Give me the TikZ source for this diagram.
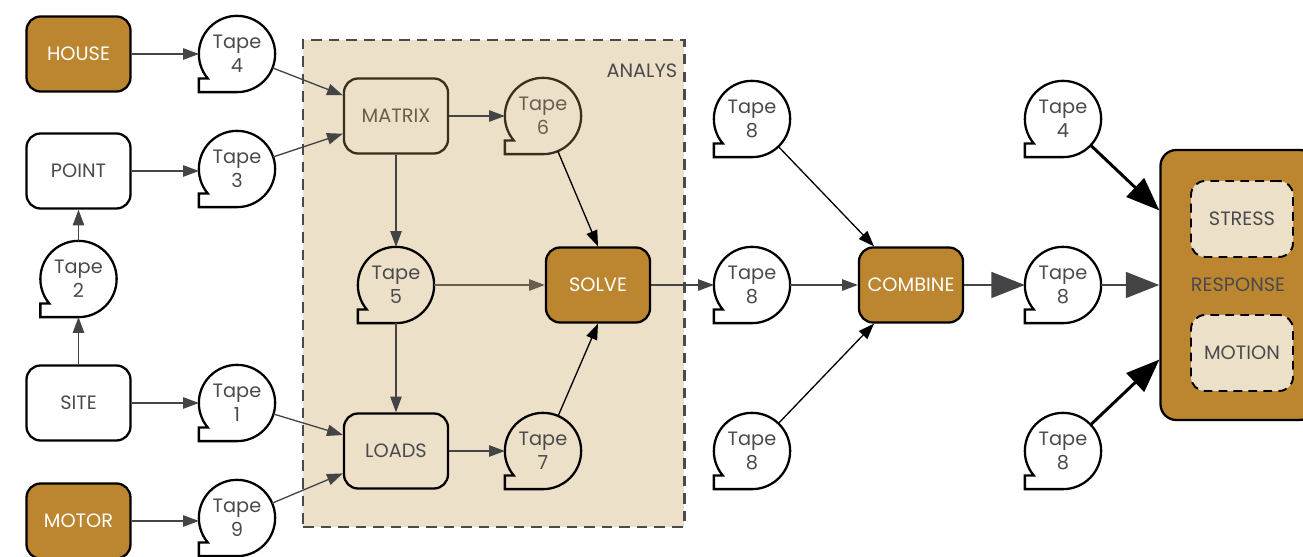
\documentclass[tikz,border=0pt]{standalone}
\usepackage{fontspec}
\setmainfont{Poppins}
\usetikzlibrary{positioning,arrows.meta}

\definecolor{gold}{HTML}{BC8630}
\definecolor{sand}{HTML}{EDE0C8}
\definecolor{inkgray}{HTML}{4A4A4C}
\definecolor{wiregray}{HTML}{444447}
\definecolor{umber}{HTML}{3A2F1E}
\definecolor{umbertext}{HTML}{6B5D4B}

% magnetic tape symbol: a circle with its lower left corner squared off
\pgfdeclareshape{tape}{
  \inheritsavedanchors[from=circle]
  \inheritanchorborder[from=circle]
  \inheritanchor[from=circle]{center}
  \inheritanchor[from=circle]{mid}
  \inheritanchor[from=circle]{base}
  \inheritanchor[from=circle]{north}
  \inheritanchor[from=circle]{south}
  \inheritanchor[from=circle]{east}
  \inheritanchor[from=circle]{west}
  \inheritanchor[from=circle]{north east}
  \inheritanchor[from=circle]{north west}
  \inheritanchor[from=circle]{south east}
  \inheritanchor[from=circle]{south west}
  \backgroundpath{
    \pgfpathmoveto{\pgfpointadd{\centerpoint}{\pgfpointpolar{220}{\radius}}}
    \pgfpatharc{220}{-90}{\radius}
    \pgfpathlineto{\pgfpointadd{\centerpoint}{\pgfpoint{-\radius}{-\radius}}}
    \pgfpathlineto{\pgfpointadd{\centerpoint}{\pgfpointadd{\pgfpoint{-\radius}{0pt}}{\pgfpointscale{0.643}{\pgfpoint{0pt}{-\radius}}}}}
    \pgfpathclose
  }
}

\tikzset{
  block/.style={rectangle, rounded corners=8pt, draw, line width=1.3pt, fill=white,
    minimum width=2.08cm, minimum height=1.5cm, inner sep=2pt, text=inkgray},
  goldblock/.style={block, fill=gold, text=white},
  sandblock/.style={block, fill=sand},
  tapebox/.style={shape=tape, draw, line width=1.3pt, fill=white, minimum size=1.48cm,
    inner sep=0pt, align=center, text=inkgray},
  subbox/.style={block, fill=sand, line width=1.1pt, dash pattern=on 5pt off 3.5pt,
    minimum width=2.04cm, minimum height=1.52cm},
  groupbox/.style={draw=inkgray, fill=sand, line width=1.7pt, dash pattern=on 6pt off 4pt},
  flow/.style={color=wiregray, line width=0.75pt, -{Triangle[length=9pt,width=6.5pt]}},
  bigflow/.style={line width=1.7pt, -{Triangle[length=19pt,width=14.5pt,line join=miter]}},
}

\begin{document}
\begin{tikzpicture}[on grid, font=\fontsize{11}{13.5}\selectfont]
  \useasboundingbox (0,0) rectangle (26.06,11.14);

  % analysis group behind its members
  \node (analys) [groupbox, minimum width=7.62cm, minimum height=9.74cm] at (9.87,5.47) {};
  \node (analysname) [anchor=base east, inner sep=0pt, text=inkgray]
    at ([xshift=-0.16cm, yshift=-0.78cm]analys.north east) {ANALYS};

  % inputs
  \node (house) [goldblock] at (1.57,10.06) {HOUSE};
  \node (point) [block, below=2.34cm of house] {POINT};
  \node (t2) [tapebox, below=2.16cm of point] {Tape\\2};
  \node (site) [block, below=2.48cm of t2] {SITE};
  \node (motor) [goldblock, below=2.36cm of site] {MOTOR};

  \node (t4) [tapebox, right=3.17cm of house] {Tape\\4};
  \node (t3) [tapebox, above right=0.04cm and 3.17cm of point] {Tape\\3};
  \node (t1) [tapebox, right=3.17cm of site] {Tape\\1};
  \node (t9) [tapebox, above right=0.06cm and 3.17cm of motor] {Tape\\9};

  % analysis
  \node (matrix) [sandblock, draw=umber, text=umbertext] at (7.92,8.82) {MATRIX};
  \node (t5) [tapebox, fill=sand, below=3.38cm of matrix] {Tape\\5};
  \node (loads) [sandblock, below=3.32cm of t5] {LOADS};
  \node (t6) [tapebox, fill=sand, draw=umber, text=umbertext, right=2.94cm of matrix] {Tape\\6};
  \node (solve) [goldblock, right=4.04cm of t5] {SOLVE};
  \node (t7) [tapebox, fill=sand, right=2.94cm of loads] {Tape\\7};

  % combination
  \node (t8b) [tapebox, right=3.08cm of solve] {Tape\\8};
  \node (t8a) [tapebox, above=3.32cm of t8b] {Tape\\8};
  \node (t8c) [tapebox, below=3.32cm of t8b] {Tape\\8};
  \node (combine) [goldblock, right=3.18cm of t8b] {COMBINE};

  % response
  \node (t8d) [tapebox, right=3.04cm of combine] {Tape\\8};
  \node (t4r) [tapebox, above=3.32cm of t8d] {Tape\\4};
  \node (t8e) [tapebox, below=3.32cm of t8d] {Tape\\8};
  \node (resp) [goldblock, text=inkgray, rounded corners=9pt, minimum width=3.1cm,
    minimum height=5.4cm, right=3.5cm of t8d] {RESPONSE};
  \node (stress) [subbox, above right=1.32cm and 0.08cm of resp] {STRESS};
  \node (motion) [subbox, below right=1.36cm and 0.08cm of resp] {MOTION};

  \path[flow]
  (house) edge (t4)
  (point) edge (point -| t3.west)
  (site) edge (t2)
  (t2) edge (point)
  (site) edge (t1)
  (motor) edge (motor -| t9.west)
  (t4) edge (matrix)
  (t3) edge (matrix)
  (t1) edge (loads)
  (t9) edge (loads)
  (matrix) edge (t6)
  (matrix) edge (t5)
  (t5) edge (loads)
  (loads) edge (t7)
  (solve) edge (t8b)
  (t8b) edge (combine);

  \path[flow, color=umbertext]
  (t5) edge (solve);

  \path[flow, color=black]
  (t6) edge (solve.north)
  (t7) edge (solve.south)
  (t8a) edge (combine)
  (t8c) edge (combine);

  \path[bigflow, color=wiregray]
  (combine) edge (t8d)
  (t8d) edge (resp);

  \path[bigflow, color=black]
  (t4r) edge (resp)
  (t8e) edge (resp);
\end{tikzpicture}
\end{document}
